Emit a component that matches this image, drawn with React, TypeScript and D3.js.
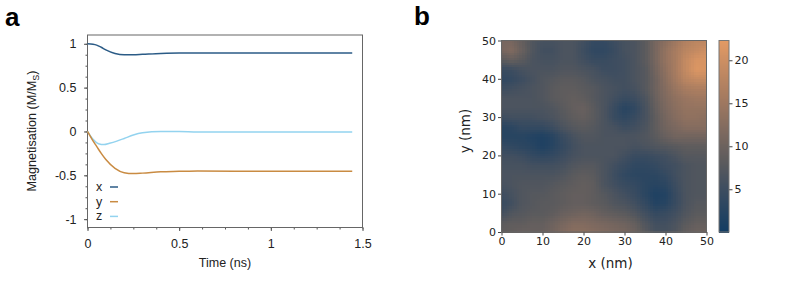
import React, { useEffect, useRef } from 'react';
import * as d3 from 'd3';

const WIDTH = 789;
const HEIGHT = 283;

// panel a: magnetisation relaxation
const timeX = [0, 0.03, 0.05, 0.075, 0.1, 0.15, 0.2, 0.25, 0.3, 0.4, 0.5, 0.6, 1, 1.444];
const magX = [1, 0.995, 0.985, 0.96, 0.93, 0.89, 0.875, 0.875, 0.88, 0.89, 0.895, 0.895, 0.895, 0.895];
const timeY = [0, 0.025, 0.05, 0.075, 0.1, 0.15, 0.2, 0.25, 0.3, 0.4, 0.5, 0.6, 1, 1.444];
const magY = [0, -0.09, -0.17, -0.25, -0.32, -0.42, -0.47, -0.48, -0.475, -0.46, -0.455, -0.45, -0.455, -0.455];
const timeZ = [0, 0.03, 0.06, 0.09, 0.12, 0.16, 0.2, 0.25, 0.3, 0.4, 0.5, 0.6, 1, 1.444];
const magZ = [0, -0.09, -0.14, -0.15, -0.135, -0.11, -0.08, -0.04, -0.015, 0, 0, -0.005, -0.005, -0.005];

const seriesNames = ['x', 'y', 'z'];
const seriesColors = ['#2b5b86', '#c98b42', '#93d3ef'];

const xMajor = [0, 0.5, 1, 1.5];
const yMajor = [-1, -0.5, 0, 0.5, 1];

// panel b: height map, rows from y = 50 down to y = 0, columns from x = 0 to x = 50
const mapAxis = [0, 10, 20, 30, 40, 50];
const barTicks = [5, 10, 15, 20];
const mapRows = [
  [11, 11, 9, 7, 6, 6, 6.5, 6.5, 5.5, 4, 4, 5, 6, 6.5, 8, 11, 13, 15, 17, 18, 18],
  [11, 12, 9.5, 7, 5.5, 5.5, 6.5, 6.5, 5, 3.5, 3.5, 4.5, 6, 6.5, 8, 11, 14, 16, 18, 19, 20],
  [8, 9, 8, 6.5, 6, 6, 6.5, 6.5, 5.5, 4.5, 4.5, 5, 5.5, 6.5, 8, 11, 14, 16, 19, 21, 21],
  [4.5, 5, 6, 6.5, 6.5, 6.5, 7, 7, 6.5, 6, 5, 5, 5.5, 6.5, 7.5, 10.5, 13.5, 16, 19, 21.5, 21],
  [3.5, 4, 5, 6, 7, 7.5, 8, 8, 7.5, 6.5, 6, 5.5, 5.5, 6.5, 7.5, 10, 13, 15.5, 18, 19, 19],
  [5, 5.5, 6, 6.5, 7, 8, 8.5, 8.5, 8, 7.5, 6.5, 6, 5.5, 6, 7.5, 10, 12.5, 14.5, 16, 16.5, 16.5],
  [6.5, 6.5, 6.5, 6.5, 7, 8, 8.5, 9, 8.5, 7.5, 6.5, 5.5, 4.5, 5, 6.5, 9.5, 12, 13.5, 14.5, 15, 15],
  [6.5, 6.5, 6.5, 6.5, 6.5, 7, 8, 9, 9.5, 8, 6.5, 4.5, 2.5, 3.5, 6, 9, 11.5, 13, 14, 14, 14],
  [5, 5.5, 5.5, 5.5, 6, 6.5, 7.5, 8.5, 9, 8, 6.5, 4.5, 3.5, 4.5, 6, 8.5, 11, 12.5, 13.5, 13.5, 13],
  [2.5, 3, 4, 4, 4, 5, 6.5, 7.5, 8, 7.5, 6.5, 6, 5, 5.5, 6.5, 8.5, 10.5, 11.5, 12.5, 12.5, 12.5],
  [2.5, 2.5, 2.5, 2, 1.5, 2.5, 4.5, 6, 7, 7, 6.5, 6.5, 6.5, 6.5, 7, 8, 9.5, 10.5, 10.5, 10.5, 10.5],
  [4, 3.5, 3, 2.5, 1.5, 2.5, 4, 5.5, 6.5, 6.5, 6.5, 6.5, 6.5, 6, 6.5, 7, 7.5, 8, 8.5, 8.5, 8.5],
  [5.5, 5.5, 5, 4, 3.5, 4, 5, 6, 6.5, 6.5, 6.5, 6.5, 5.5, 4.5, 4.5, 5, 5.5, 6.5, 7.5, 7.5, 7.5],
  [6, 6, 6, 5.5, 5.5, 5.5, 6, 7, 7.5, 7.5, 6.5, 5.5, 4.5, 3.5, 3.5, 4, 5, 5.5, 6.5, 7, 7],
  [6.5, 6.5, 6.5, 6.5, 6.5, 6.5, 7, 8, 8.5, 8, 6.5, 5, 3.5, 3, 3, 3, 4, 5.5, 6.5, 7, 7],
  [6, 6.5, 7, 7, 7, 7.5, 8, 8.5, 9, 8.5, 6.5, 5.5, 4.5, 4, 3, 2.5, 3, 5, 6.5, 7, 7],
  [5, 6, 7, 7.5, 7.5, 8, 8.5, 9, 9, 8.5, 7.5, 6.5, 5.5, 4.5, 3, 1.5, 2, 4.5, 6.5, 7, 7],
  [4.5, 5.5, 7, 7.5, 8, 8, 8.5, 9, 9, 8.5, 8, 7, 6.5, 5.5, 4, 2, 2.5, 4.5, 6.5, 7.5, 7.5],
  [5.5, 7, 7.5, 8, 8, 8.5, 9.5, 10, 10.5, 10, 9, 8.5, 8, 7, 5.5, 4, 4.5, 5.5, 7, 8, 8],
  [8, 8.5, 8.5, 9, 9, 10, 11, 12, 12, 11.5, 11, 10.5, 10, 9, 7, 5.5, 5.5, 6.5, 8, 9, 9],
  [8.5, 9, 9.5, 9.5, 9.5, 10.5, 12, 13, 13, 12.5, 12, 11.5, 11, 10, 8, 6, 6, 7, 9, 10, 10],
];

const colormapStops = [0, 5, 8, 12, 16, 22.3];
const colormapColors = ['#123c63', '#3d4d60', '#5a5a5d', '#806a5f', '#a87c60', '#e39a64'];

const LEFT_FONT = '"Liberation Sans", Arial, sans-serif';
const RIGHT_FONT = '"DejaVu Sans", sans-serif';

export default function App() {
  const ref = useRef<SVGSVGElement>(null);

  useEffect(() => {
    const svg = d3.select(ref.current);
    svg.selectAll('*').remove();

    // ---- panel a ----
    const x = d3.scaleLinear().domain([0, 1.5]).range([87.5, 362.5]);
    const y = d3.scaleLinear().domain([-1.095, 1.1]).range([227.5, 35]);

    const styleAxis = (g: any, color: string, font: string, size: number) => {
      g.select('.domain').remove();
      g.selectAll('line').attr('stroke', color);
      g.selectAll('text').attr('fill', '#222').style('font-family', font).style('font-size', size + 'px');
    };

    const xMinor = d3.axisBottom(x).tickValues(d3.range(0, 1.5001, 0.125)).tickSize(2).tickFormat(() => '');
    svg.append('g').attr('transform', 'translate(0,227.5)').call(xMinor).call(styleAxis, '#555', LEFT_FONT, 12);
    const yMinor = d3.axisLeft(y).tickValues(d3.range(-1, 1.0001, 0.125)).tickSize(2).tickFormat(() => '');
    svg.append('g').attr('transform', 'translate(87.5,0)').call(yMinor).call(styleAxis, '#555', LEFT_FONT, 12);

    const xAxis = d3.axisBottom(x).tickValues(xMajor).tickSize(3.5).tickPadding(8).tickFormat(d3.format('~g') as any);
    svg.append('g').attr('transform', 'translate(0,227.5)').call(xAxis).call(styleAxis, '#555', LEFT_FONT, 12.5);
    const yAxis = d3.axisLeft(y).tickValues(yMajor).tickSize(3.5).tickPadding(7.5).tickFormat((d: any) => String(d));
    svg.append('g').attr('transform', 'translate(87.5,0)').call(yAxis).call(styleAxis, '#555', LEFT_FONT, 12.5);

    svg.append('rect')
      .attr('x', 87.5).attr('y', 35).attr('width', 275).attr('height', 192.5)
      .attr('fill', 'none').attr('stroke', '#666').attr('stroke-width', 1);

    const line = d3.line<[number, number]>()
      .x(d => x(d[0]))
      .y(d => y(d[1]))
      .curve(d3.curveMonotoneX);

    const curves: [number, number][][] = [
      d3.zip(timeX, magX) as any,
      d3.zip(timeY, magY) as any,
      d3.zip(timeZ, magZ) as any,
    ];
    // z is under y at the origin in the reference
    [2, 0, 1].forEach(i => {
      svg.append('path')
        .datum(curves[i])
        .attr('fill', 'none')
        .attr('stroke', seriesColors[i])
        .attr('stroke-width', 1.5)
        .attr('d', line);
    });

    const legend = svg.append('g');
    seriesNames.forEach((name, i) => {
      const ly = 187 + i * 14.7;
      legend.append('text')
        .attr('x', 96).attr('y', ly + 4)
        .attr('fill', '#222')
        .style('font-family', LEFT_FONT).style('font-size', '12.5px')
        .text(name);
      legend.append('line')
        .attr('x1', 110).attr('x2', 118).attr('y1', ly).attr('y2', ly)
        .attr('stroke', seriesColors[i]).attr('stroke-width', 1.5);
    });

    svg.append('text')
      .attr('x', 225).attr('y', 267)
      .attr('text-anchor', 'middle')
      .attr('fill', '#222')
      .style('font-family', LEFT_FONT).style('font-size', '12.5px')
      .text('Time (ns)');

    const yTitle = svg.append('text')
      .attr('transform', 'translate(36,131) rotate(-90)')
      .attr('text-anchor', 'middle')
      .attr('fill', '#222')
      .style('font-family', LEFT_FONT).style('font-size', '12.6px');
    yTitle.append('tspan').text('Magnetisation (M/M');
    yTitle.append('tspan').attr('dy', 2.5).style('font-size', '9px').text('S');
    yTitle.append('tspan').attr('dy', -2.5).text(')');

    svg.append('text')
      .attr('x', 5).attr('y', 25.5)
      .attr('fill', '#000')
      .style('font-family', LEFT_FONT).style('font-weight', 700).style('font-size', '26px')
      .text('a');

    // ---- panel b ----
    const mx = d3.scaleLinear().domain([0, 50]).range([501.5, 706.5]);
    const my = d3.scaleLinear().domain([0, 50]).range([232, 40.5]);
    const color = d3.scaleLinear<string>()
      .domain(colormapStops)
      .range(colormapColors)
      .interpolate(d3.interpolateRgb);

    // bilinear display of the grid, like imshow with interpolation
    const nRows = mapRows.length - 1;
    const nCols = mapRows[0].length - 1;
    const sample = (px: number, py: number) => {
      const c = (px / 50) * nCols;
      const r = ((50 - py) / 50) * nRows;
      const c0 = Math.min(Math.floor(c), nCols - 1);
      const r0 = Math.min(Math.floor(r), nRows - 1);
      const top = d3.interpolateNumber(mapRows[r0][c0], mapRows[r0][c0 + 1])(c - c0);
      const bot = d3.interpolateNumber(mapRows[r0 + 1][c0], mapRows[r0 + 1][c0 + 1])(c - c0);
      return d3.interpolateNumber(top, bot)(r - r0);
    };

    const step = 0.625;
    const map = svg.append('g').attr('shape-rendering', 'crispEdges');
    d3.range(0, 50, step).forEach(px => {
      d3.range(0, 50, step).forEach(py => {
        map.append('rect')
          .attr('x', mx(px))
          .attr('y', my(py + step))
          .attr('width', mx(px + step) - mx(px) + 0.5)
          .attr('height', my(py) - my(py + step) + 0.5)
          .attr('fill', color(sample(px + step / 2, py + step / 2)));
      });
    });

    const mapXAxis = d3.axisBottom(mx).tickValues(mapAxis).tickSize(3.5).tickPadding(2).tickFormat(d3.format('d') as any);
    svg.append('g').attr('transform', 'translate(0,232)').call(mapXAxis).call(styleAxis, '#444', RIGHT_FONT, 11);
    const mapYAxis = d3.axisLeft(my).tickValues(mapAxis).tickSize(3.5).tickPadding(2).tickFormat(d3.format('d') as any);
    svg.append('g').attr('transform', 'translate(501.5,0)').call(mapYAxis).call(styleAxis, '#444', RIGHT_FONT, 11);

    svg.append('rect')
      .attr('x', 501.5).attr('y', 40.5).attr('width', 205).attr('height', 191.5)
      .attr('fill', 'none').attr('stroke', '#666').attr('stroke-width', 1);

    svg.append('text')
      .attr('x', 610.5).attr('y', 268)
      .attr('text-anchor', 'middle')
      .attr('fill', '#222')
      .style('font-family', RIGHT_FONT).style('font-size', '13.5px')
      .text('x (nm)');
    svg.append('text')
      .attr('transform', 'translate(469.5,131) rotate(-90)')
      .attr('text-anchor', 'middle')
      .attr('fill', '#222')
      .style('font-family', RIGHT_FONT).style('font-size', '13.5px')
      .text('y (nm)');

    // colour bar
    const barY = d3.scaleLinear().domain([0.03, 22.3]).range([232, 40.5]);
    const bar = svg.append('g').attr('shape-rendering', 'crispEdges');
    d3.range(0.03, 22.3, 0.115).forEach(v => {
      bar.append('rect')
        .attr('x', 719).attr('width', 10)
        .attr('y', barY(v + 0.115))
        .attr('height', barY(v) - barY(v + 0.115) + 0.5)
        .attr('fill', color(v));
    });
    const barAxis = d3.axisRight(barY).tickValues(barTicks).tickSize(3.5).tickPadding(2).tickFormat(d3.format('d') as any);
    svg.append('g').attr('transform', 'translate(729,0)').call(barAxis).call(styleAxis, '#444', RIGHT_FONT, 11);
    svg.append('rect')
      .attr('x', 719).attr('y', 40.5).attr('width', 10).attr('height', 191.5)
      .attr('fill', 'none').attr('stroke', '#777').attr('stroke-width', 1);

    svg.append('text')
      .attr('x', 414).attr('y', 25)
      .attr('fill', '#000')
      .style('font-family', LEFT_FONT).style('font-weight', 700).style('font-size', '26px')
      .text('b');
  }, []);

  return (
    <svg
      ref={ref}
      width={WIDTH}
      height={HEIGHT}
      style={{ position: 'fixed', left: 0, top: 0, background: '#fff' }}
    />
  );
}
